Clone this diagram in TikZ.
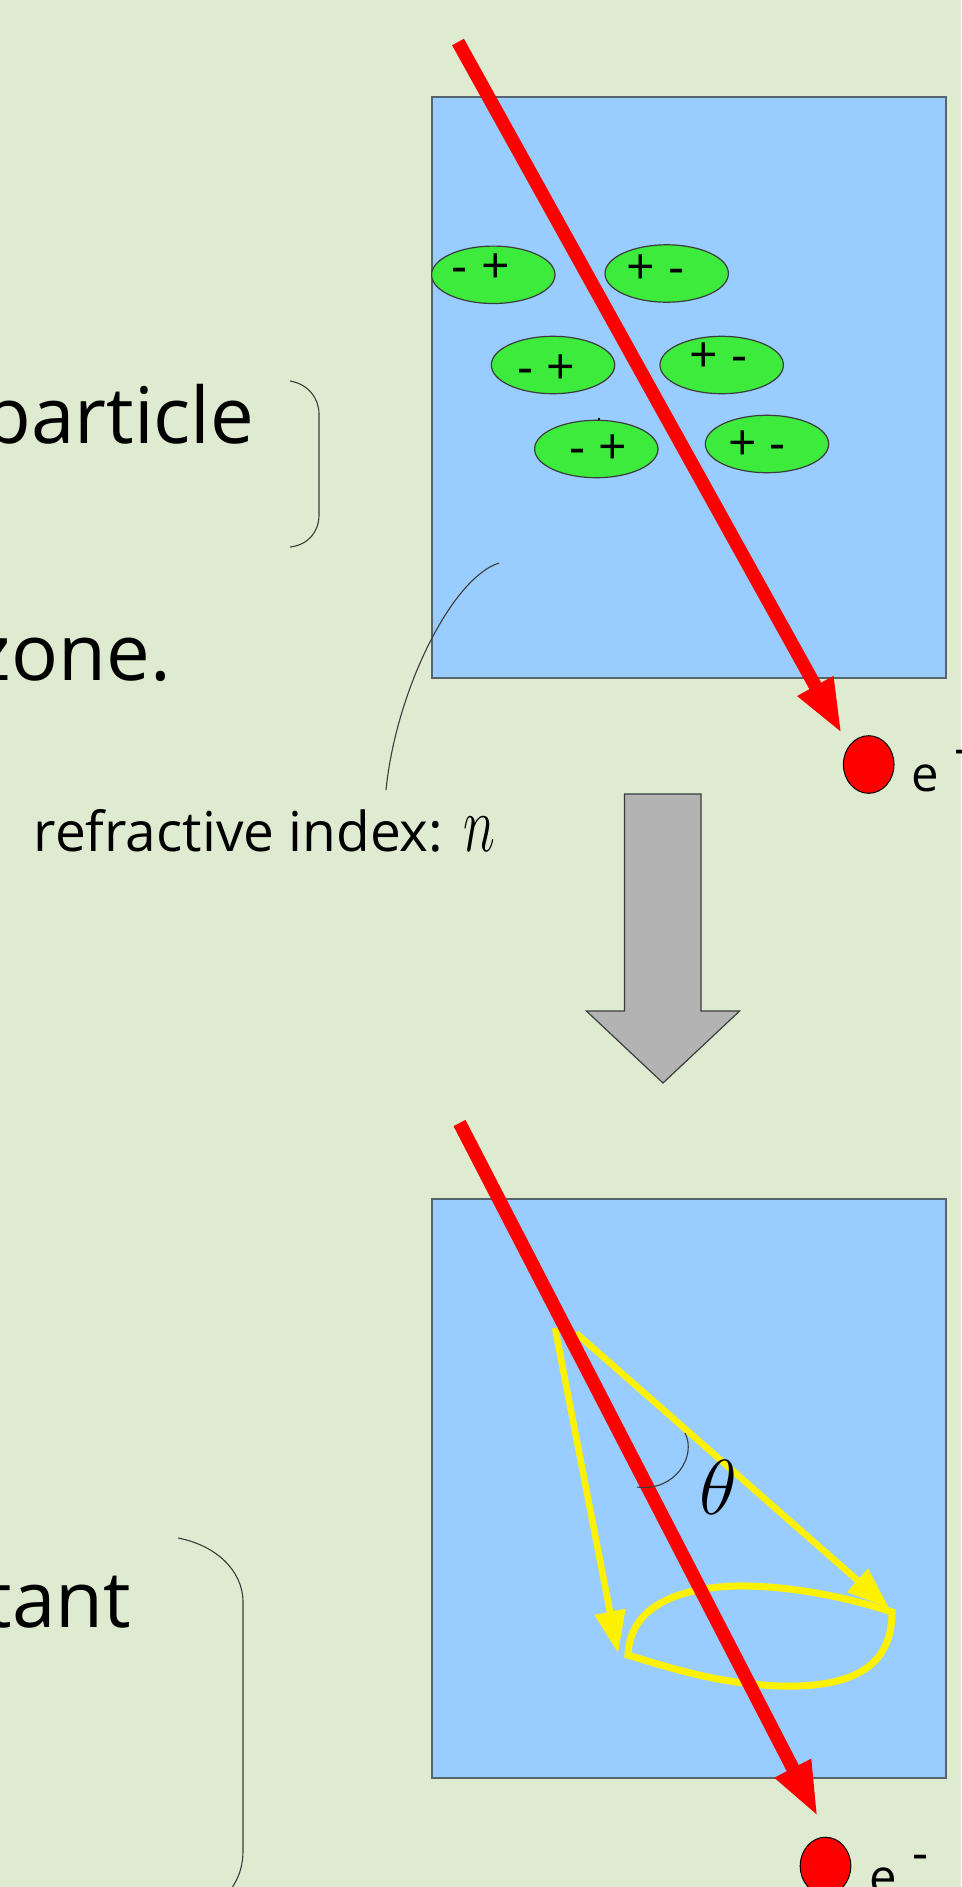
\RequirePackage{fix-cm}
\documentclass[tikz,border=0pt]{standalone}
\usepackage{fontspec}
\setmainfont{Open Sans}
\usepackage{graphicx}
\usetikzlibrary{shapes.geometric,arrows.meta}

\definecolor{bg}{HTML}{DFEBD1}
\definecolor{water}{HTML}{99CCFF}
\definecolor{frame}{HTML}{56646B}
\definecolor{dipole}{HTML}{3DEB3D}
\definecolor{shaft}{HTML}{B3B3B3}
\definecolor{ink}{HTML}{3C3C3C}

\tikzset{
  radiator/.style={draw=frame, line width=2pt, fill=water, minimum width=514pt, inner sep=0pt},
  molecule/.style={ellipse, draw=ink, line width=1.2pt, fill=dipole,
                   minimum width=123.4pt, minimum height=57.4pt, inner sep=0pt},
  charge/.style={font=\fontsize{50}{50}\selectfont, anchor=base, inner sep=0pt},
  track/.style={draw=red, line width=13.5pt, -{Triangle[length=55pt,width=37pt]}},
  photon/.style={draw=yellow, line width=6.5pt, -{Triangle[length=42pt,width=30pt]}},
  cone/.style={draw=yellow, line width=7pt, line join=miter},
  electron/.style={ellipse, draw=black, line width=1pt, fill=red,
                   minimum width=50.6pt, minimum height=57.6pt, inner sep=0pt},
  leader/.style={draw=ink, line width=1.1pt},
  bigtext/.style={font=\fontsize{78}{78}\selectfont, anchor=base east, inner sep=0pt},
  smalltext/.style={anchor=base west, inner sep=0pt},
}

\begin{document}
\begin{tikzpicture}[x=1pt,y=-1pt]
\useasboundingbox (0,0) rectangle (961,1887);
\fill[bg] (0,0) rectangle (961,1887);
\begin{scope}
\clip (0,0) rectangle (961,1887);

% radiator blocks
\node[radiator, minimum height=581pt] (upper) at (689,387.5) {};
\node[radiator, minimum height=579pt] (lower) at (689,1488.5) {};

% polarised molecules
\node[molecule] (m1) at (493.3,274.8) {};
\node[molecule] (m2) at (666.7,273.5) {};
\node[molecule] (m3) at (553,365) {};
\node[molecule] (m4) at (721.7,365) {};
\node[molecule] (m5) at (596.3,449) {};
\node[molecule] (m6) at (767,444) {};
\node[charge] (q1) at (480.8,283) {- +};
\node[charge] (q2) at (655.8,284.5) {+ -};
\node[charge] (q3) at (546.3,384) {- +};
\node[charge] (q4) at (718.3,372.7) {+ -};
\node[charge] (q5) at (598.3,464.2) {- +};
\node[charge] (q6) at (757.2,460.7) {+ -};
\fill[black] (599,419) circle (1.3);

% leader to the label
\coordinate (ptrA) at (499,563);
\coordinate (ptrB) at (386,790);
\draw[leader] (ptrA) .. controls (452,578) and (396,690) .. (ptrB);
\node[smalltext, font=\fontsize{55}{55}\selectfont] (nlabel) at (33.6,851.7)
  {refractive index:\hspace{20pt}\scalebox{0.68}[1]{\fontsize{80}{80}\selectfont$n$}};

% braces
\coordinate (b1a) at (290,381);
\coordinate (b1b) at (290,547);
\draw[leader] (b1a) .. controls (308,384) and (319,398) .. (319,414)
  -- (319,515) .. controls (319,532) and (308,545) .. (b1b);
\coordinate (b2a) at (178,1538);
\coordinate (b2b) at (229,1892);
\draw[leader] (b2a) .. controls (215,1545) and (243,1570) .. (243,1602)
  -- (243,1850) .. controls (243,1868) and (238,1880) .. (b2b);

% text clipped at the left margin
\node[bigtext] (w1) at (254.7,443) {particle};
\node[bigtext] (w2) at (171,680) {zone.};
\node[bigtext] (w3) at (131,1627) {tant};

% transition arrow
\draw[draw=ink, line width=1.2pt, fill=shaft]
  (624.4,794) -- (701,794) -- (701,1011) -- (739.6,1011) -- (663,1083)
  -- (586.4,1011) -- (624.4,1011) -- cycle;

% upper track
\coordinate (t1s) at (458,42);
\coordinate (t1e) at (842,734);
\node[electron] (eTop) at (868.7,764.5) {};
\draw[track] (t1s) -- (t1e);
\node[smalltext, font=\fontsize{49}{49}\selectfont] (eTopLbl) at (911,791.7) {e};
\node[smalltext, font=\fontsize{50}{50}\selectfont] (eTopSign) at (954,765) {-};

% Cherenkov cone
\coordinate (c0L) at (555,1328);
\coordinate (c1L) at (618,1653);
\coordinate (c0R) at (576,1333);
\coordinate (c1R) at (889,1608);
\draw[photon] (c0L) -- (c1L);
\draw[photon] (c0R) -- (c1R);
\draw[cone] (628,1655) .. controls (630,1605) and (680,1588) .. (735,1586)
  .. controls (790,1585) and (850,1598) .. (892,1612)
  .. controls (892,1665) and (855,1688) .. (780,1686)
  .. controls (720,1684) and (670,1668) .. (628,1655) -- cycle;

% lower track
\coordinate (t2s) at (459.5,1123);
\coordinate (t2e) at (818,1817);
\node[electron] (eBot) at (825.5,1866) {};
\draw[track] (t2s) -- (t2e);
\node[smalltext, font=\fontsize{49}{49}\selectfont] (eBotLbl) at (869,1894.7) {e};
\node[smalltext, font=\fontsize{50}{50}\selectfont] (eBotSign) at (912,1870) {-};

% emission angle
\draw[leader] (685,1433) .. controls (697,1456) and (675,1492) .. (637,1487);
\node[inner sep=0pt, font=\fontsize{78}{78}\selectfont] (theta) at (718,1487) {$\theta$};
\end{scope}
\end{tikzpicture}
\end{document}
